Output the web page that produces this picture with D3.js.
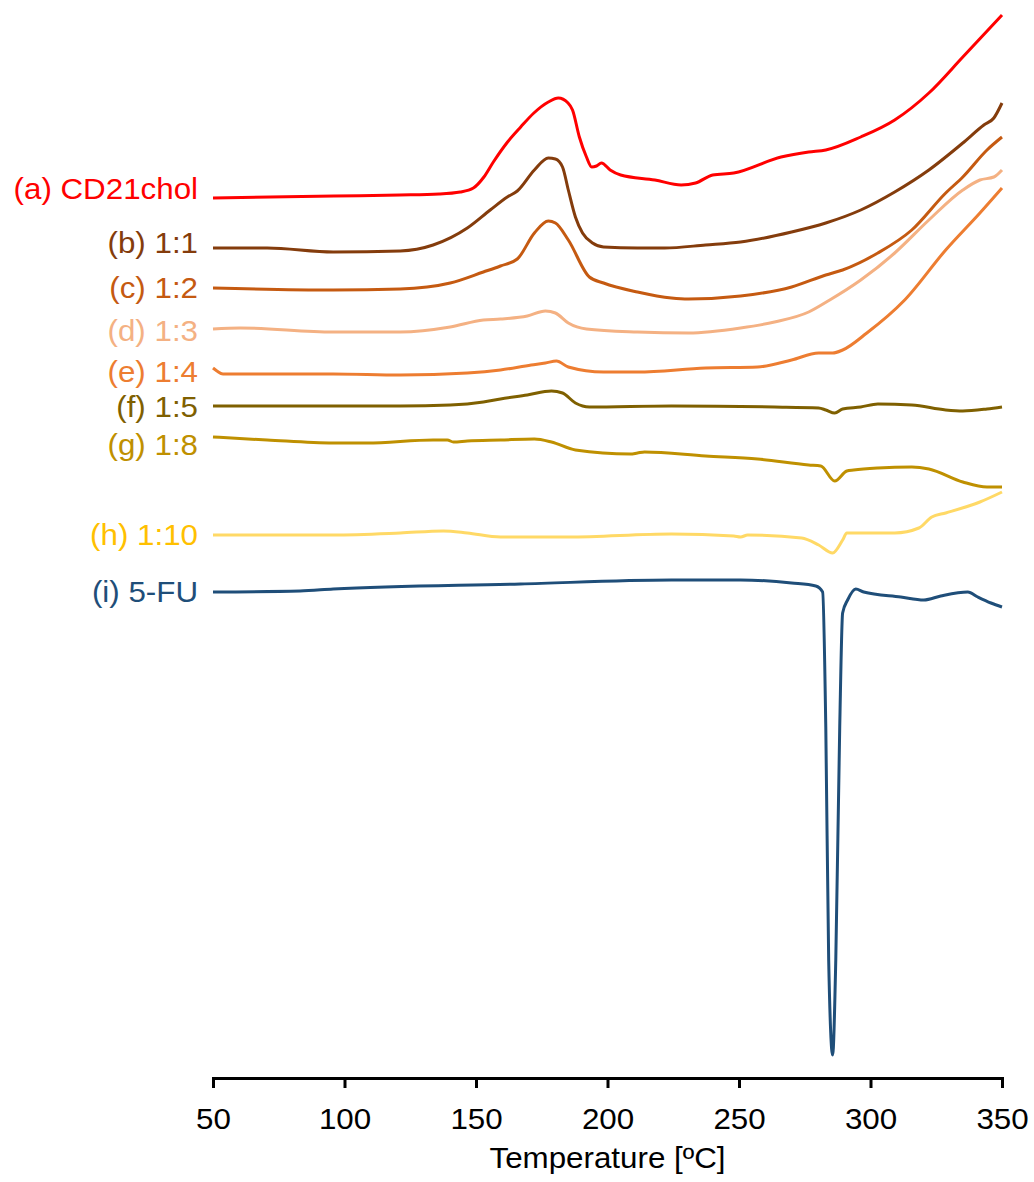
<!DOCTYPE html>
<html>
<head>
<meta charset="utf-8">
<script src="https://cdn.jsdelivr.net/npm/d3@7"></script>
<style>
  body { margin: 0; background: #fff; }
  text { font-family: Arial, "Liberation Sans", sans-serif; }
</style>
</head>
<body>
<svg id="dsc" width="1034" height="1182"></svg>
<script>
// DSC thermograms, [temperature, heat flow (a.u., stacked)]
const curveA = [[50,88.0],[96,88.2],[121,88.3],[136,88.4],[144,88.6],[149,89.0],[153,90.1],[156.6,91.6],[162,93.6],[167,95.1],[172,96.5],[177.5,97.6],[181.3,98.0],[185,97.5],[186.7,96.8],[189.3,94.1],[192,92.1],[194,91.1],[195.8,91.2],[197.7,91.5],[201,90.8],[205,90.3],[218,89.8],[228,89.3],[233.5,89.5],[240,90.3],[248,90.5],[266,92.1],[276.5,92.6],[283,92.8],[296.3,94.1],[309.2,95.8],[322.2,98.5],[335.1,102.1],[350,106.3]];
const curveB = [[50,83.0],[70.6,83.0],[95.7,82.6],[121.2,82.7],[133.7,83.3],[146.7,85.0],[155.4,86.8],[161.9,88.1],[165.7,88.7],[172.2,90.8],[177.5,92.0],[180.2,91.9],[182.9,91.1],[185.1,88.8],[187.8,86.1],[190.5,84.5],[194.3,83.5],[198.5,83.1],[211.4,83.0],[221.7,83.0],[237.3,83.3],[250.6,83.6],[270,84.6],[283,85.5],[296.3,86.8],[309.2,88.6],[322.2,90.8],[335.1,93.5],[343.1,95.3],[346.9,96.0],[350,97.5]];
const curveC = [[50,79.0],[95.7,78.8],[121.2,78.9],[140.2,79.5],[152.8,80.6],[159.3,81.2],[165.7,81.9],[172.2,84.5],[177.5,85.7],[180.2,85.5],[185.1,83.8],[193.1,80.1],[198.5,79.5],[211.4,78.6],[224.3,78.0],[230.8,77.9],[250.6,78.2],[270,79.1],[283,80.3],[289.4,80.8],[302.8,82.5],[315.7,84.8],[328.6,88.5],[335.1,90.1],[344.3,92.8],[350,94.1]];
const curveD = [[50,74.9],[60.3,75.0],[95.7,74.6],[121.2,74.6],[140.2,75.1],[152.8,75.8],[159.3,75.9],[169.5,76.2],[176.4,76.7],[180.2,76.5],[185.1,75.5],[192,74.9],[211.4,74.6],[230.8,74.5],[250.6,75.0],[263.5,75.6],[276.5,76.6],[284.5,77.8],[296.3,79.8],[309.2,82.5],[322.2,85.8],[335.1,88.8],[341.6,89.8],[346.9,90.1],[350,90.8]];
const curveE = [[50,71.0],[51.5,70.7],[53.8,70.4],[95.7,70.4],[121.2,70.3],[146.7,70.5],[159.3,70.8],[171,71.3],[176.4,71.5],[180.6,71.7],[185.1,71.1],[198.5,70.6],[211.4,70.6],[237.3,71.0],[257.1,71.1],[270,71.8],[280.3,72.5],[285.6,72.5],[289.4,72.8],[298.6,74.5],[313,77.8],[328.6,82.8],[341.6,86.5],[350,89.0]];
const curveF = [[50,67.2],[95.7,67.2],[121.2,67.2],[140.2,67.3],[152.8,67.6],[159.3,67.9],[169.5,68.3],[178.7,68.7],[182.9,68.5],[187.8,67.5],[193.1,67.1],[224.3,67.2],[263.5,67.1],[280.3,67.0],[283,66.8],[286.4,66.5],[289.4,66.9],[296.3,67.1],[302.8,67.4],[315.7,67.3],[328.6,66.8],[335.1,66.7],[344.3,66.9],[350,67.1]];
const curveG = [[50,64.1],[70.6,63.8],[95.7,63.5],[108.6,63.5],[133.7,63.8],[139.1,63.8],[141.4,63.6],[146.7,63.7],[159.3,63.8],[172.2,63.9],[178.7,63.6],[187.8,62.8],[208.7,62.4],[211.4,62.5],[214.1,62.6],[237.3,62.2],[257.1,61.9],[276.5,61.3],[281.1,61.2],[286.4,59.7],[291,60.7],[293.6,60.8],[302.8,61.0],[315.7,61.1],[322.2,60.9],[335.1,59.6],[344.3,59.1],[350,59.1]];
const curveH = [[50,54.3],[95.7,54.3],[121.2,54.5],[137.6,54.7],[146.7,54.5],[159.3,54.1],[185.1,54.1],[224.3,54.4],[248,54.2],[250.6,54.1],[253.3,54.3],[273.8,54.0],[280.3,53.3],[285.6,52.5],[289.4,53.8],[291,54.5],[294.8,54.5],[309.2,54.5],[318.4,55.0],[323.3,56.1],[328.6,56.5],[341.6,57.6],[350,58.6]];
const curveI = [[50,48.6],[83.1,48.7],[95.7,48.9],[166.9,49.4],[224.3,49.8],[250.6,49.8],[270,49.5],[279.2,49.2],[281.8,48.6],[283,35.1],[284.1,11.8],[285.6,2.3],[286.8,11.8],[288.3,35.1],[289.4,46.5],[291.3,47.8],[294.4,48.9],[297.4,48.6],[311.5,48.1],[320.3,47.8],[326.7,48.2],[337,48.6],[340.8,48.1],[345.8,47.5],[350,47.1]];

const seriesData = [curveA, curveB, curveC, curveD, curveE, curveF, curveG, curveH, curveI];
const seriesLabels = ["(a) CD21chol", "(b) 1:1", "(c) 1:2", "(d) 1:3", "(e) 1:4", "(f) 1:5", "(g) 1:8", "(h) 1:10", "(i) 5-FU"];
// where each label sits on the heat-flow scale (its baseline)
const labelLevels = [87.9, 82.5, 78.0, 73.7, 69.6, 66.1, 62.3, 53.3, 47.6];
const lineColors = ["#ff0000", "#843c0c", "#c55a11", "#f4b183", "#ed7d31", "#7f6000", "#bf9000", "#ffd966", "#1f4e79"];
const labelColors = ["#ff0000", "#843c0c", "#c55a11", "#f4b183", "#ed7d31", "#7f6000", "#bf9000", "#ffc000", "#1f4e79"];
const xTicks = [50, 100, 150, 200, 250, 300, 350];

const svg = d3.select("#dsc");

const x = d3.scaleLinear().domain([50, 350]).range([213, 1002]);
const y = d3.scaleLinear().domain([0, 107.8]).range([1078, 0]);

const line = d3.line()
    .x(d => x(d[0]))
    .y(d => y(d[1]))
    .curve(d3.curveMonotoneX);

// curves
svg.append("g").selectAll("path")
    .data(seriesData)
    .join("path")
    .attr("d", line)
    .attr("fill", "none")
    .attr("stroke", (d, i) => lineColors[i])
    .attr("stroke-width", 3)
    .attr("stroke-linejoin", "round");

// labels left of each curve (source font is a bit wide, so stretch it)
svg.append("g").selectAll("text")
    .data(seriesLabels)
    .join("text")
    .attr("transform", (d, i) => "translate(198," + y(labelLevels[i]) + ") scale(1.08,1)")
    .attr("text-anchor", "end")
    .attr("font-size", 29)
    .attr("fill", (d, i) => labelColors[i])
    .text(d => d);

// x axis
const xAxis = d3.axisBottom(x)
    .tickValues(xTicks)
    .tickSize(10)
    .tickSizeOuter(10);

const gx = svg.append("g")
    .attr("transform", "translate(0," + y(0) + ")")
    .call(xAxis);

gx.select(".domain").attr("stroke", "#000").attr("stroke-width", 3);
gx.selectAll(".tick line").attr("stroke", "#000").attr("stroke-width", 3);
gx.selectAll(".tick text")
    .attr("font-family", "Arial, 'Liberation Sans', sans-serif")
    .attr("font-size", 29)
    .attr("fill", "#000")
    .attr("dy", null)
    .attr("y", 51)
    .attr("transform", "scale(1.08,1)");

// axis title
svg.append("text")
    .attr("transform", "translate(" + ((x(50) + x(350)) / 2) + ",1168) scale(1.08,1)")
    .attr("text-anchor", "middle")
    .attr("font-size", 29)
    .attr("fill", "#000")
    .text("Temperature [ºC]");
</script>
</body>
</html>
